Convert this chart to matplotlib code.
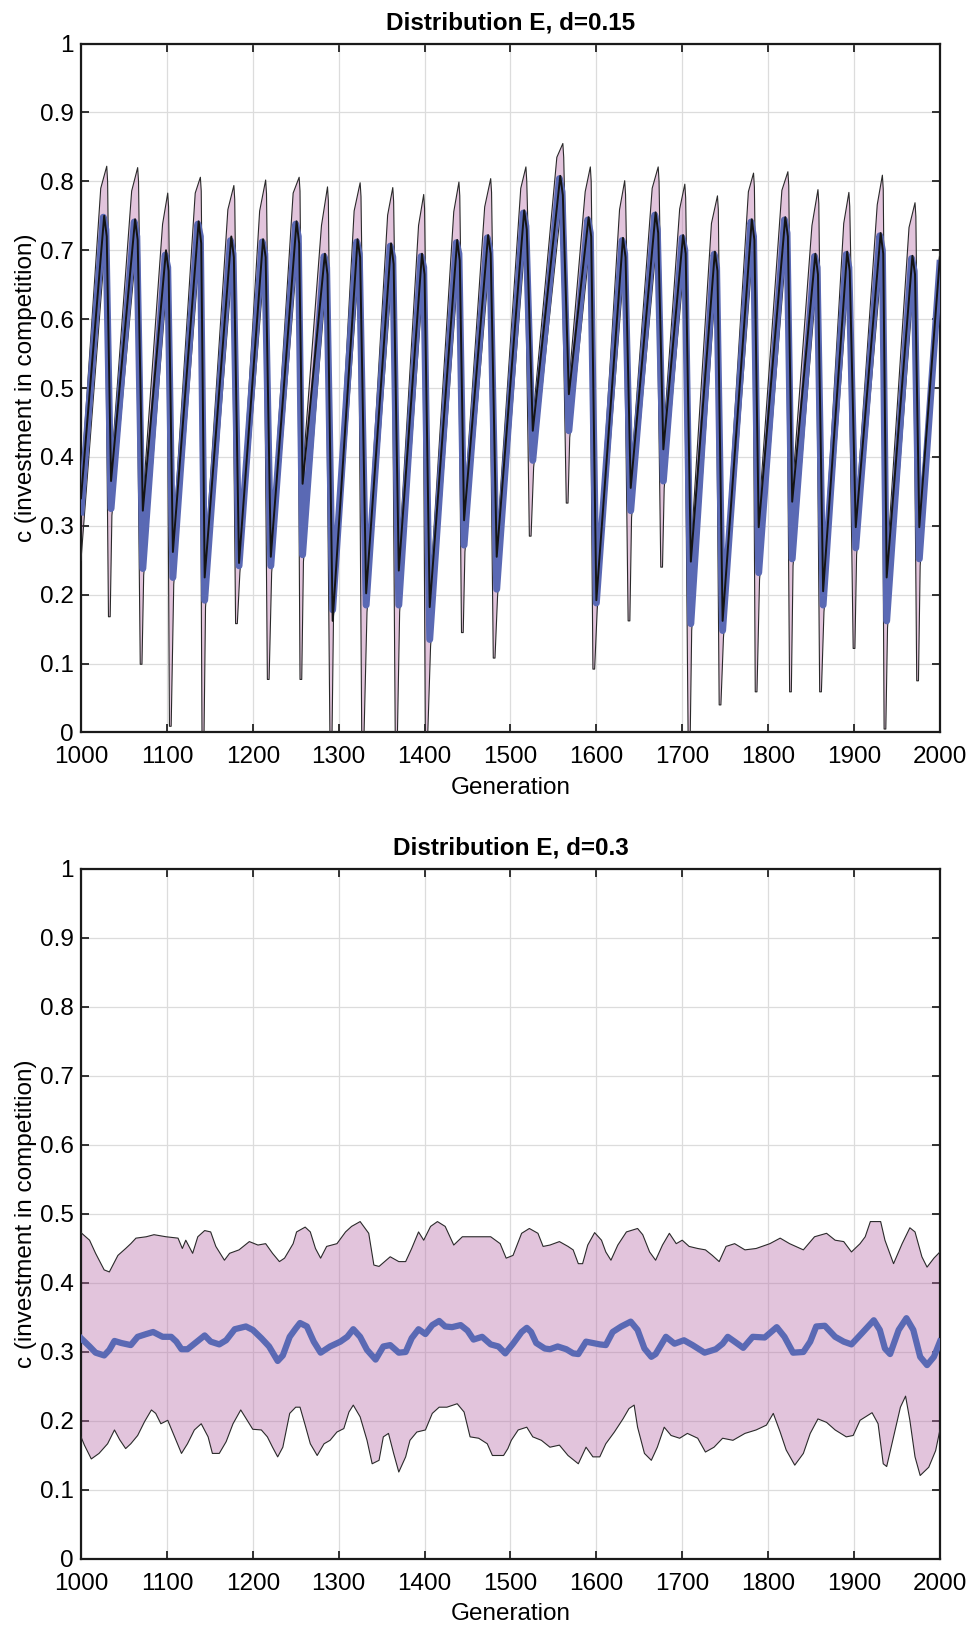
import numpy as np
import matplotlib
matplotlib.use("Agg")
import matplotlib.pyplot as plt

plt.rcParams['font.family'] = ['Liberation Sans', 'DejaVu Sans']

# ---------------- top panel: d = 0.15 ----------------
top_mean_gen = [1000, 1026, 1029, 1035, 1062, 1065, 1072, 1098, 1101, 1107, 1136, 1139, 1144,
                1174, 1177, 1184, 1211, 1214, 1221, 1250, 1253, 1258, 1283, 1286, 1293,
                1321, 1324, 1332, 1360, 1363, 1370, 1396, 1399, 1406, 1437, 1440, 1446,
                1473, 1476, 1484, 1515, 1518, 1526, 1557, 1560, 1568, 1590, 1593, 1600,
                1630, 1633, 1640, 1668, 1671, 1678, 1700, 1703, 1710, 1737, 1740, 1747,
                1780, 1783, 1789, 1819, 1822, 1828, 1854, 1857, 1864, 1891, 1894, 1902,
                1930, 1933, 1938, 1967, 1970, 1976, 2000]
top_mean = [0.32, 0.748, 0.73, 0.325, 0.741, 0.72, 0.238, 0.693, 0.675, 0.225, 0.738, 0.72, 0.192,
            0.714, 0.695, 0.242, 0.712, 0.695, 0.242, 0.738, 0.72, 0.258, 0.691, 0.675, 0.178,
            0.712, 0.695, 0.185, 0.706, 0.69, 0.185, 0.691, 0.675, 0.135, 0.711, 0.695, 0.272,
            0.718, 0.70, 0.208, 0.754, 0.735, 0.395, 0.804, 0.785, 0.438, 0.744, 0.725, 0.188,
            0.714, 0.695, 0.322, 0.751, 0.73, 0.365, 0.718, 0.70, 0.158, 0.694, 0.675, 0.148,
            0.741, 0.72, 0.232, 0.744, 0.725, 0.252, 0.691, 0.675, 0.185, 0.694, 0.675, 0.268,
            0.721, 0.70, 0.162, 0.688, 0.67, 0.252, 0.681]

top_black_gen = [1000, 1027, 1030, 1035, 1063, 1066, 1072, 1099, 1102, 1107, 1137, 1140, 1144,
                 1175, 1178, 1184, 1212, 1215, 1221, 1251, 1254, 1258, 1284, 1287, 1293,
                 1322, 1325, 1332, 1361, 1364, 1370, 1397, 1400, 1406, 1438, 1441, 1446,
                 1474, 1477, 1484, 1516, 1519, 1526, 1558, 1561, 1568, 1591, 1594, 1600,
                 1631, 1634, 1640, 1669, 1672, 1678, 1701, 1704, 1710, 1738, 1741, 1747,
                 1781, 1784, 1789, 1820, 1823, 1828, 1855, 1858, 1864, 1892, 1895, 1902,
                 1931, 1934, 1938, 1968, 1971, 1976, 2000]
top_black = [0.34, 0.75, 0.72, 0.365, 0.745, 0.715, 0.322, 0.70, 0.67, 0.262, 0.742, 0.71, 0.225,
             0.72, 0.69, 0.246, 0.716, 0.69, 0.255, 0.742, 0.71, 0.361, 0.695, 0.665, 0.162,
             0.716, 0.69, 0.202, 0.71, 0.68, 0.235, 0.695, 0.665, 0.182, 0.715, 0.685, 0.308,
             0.722, 0.695, 0.255, 0.758, 0.73, 0.438, 0.808, 0.78, 0.491, 0.748, 0.72, 0.192,
             0.718, 0.69, 0.355, 0.755, 0.725, 0.411, 0.722, 0.695, 0.248, 0.698, 0.67, 0.162,
             0.745, 0.715, 0.298, 0.748, 0.72, 0.335, 0.695, 0.665, 0.205, 0.698, 0.67, 0.298,
             0.725, 0.695, 0.225, 0.692, 0.665, 0.298, 0.69]

top_hi_gen = [1000, 1023, 1030, 1031, 1035, 1059, 1066, 1067, 1072, 1095, 1101, 1102, 1107,
              1133, 1139, 1140, 1144, 1171, 1178, 1179, 1184, 1208, 1215, 1216, 1221,
              1247, 1254, 1255, 1258, 1280, 1287, 1288, 1293, 1318, 1325, 1326, 1332,
              1357, 1363, 1364, 1370, 1393, 1399, 1400, 1406, 1434, 1440, 1441, 1446,
              1470, 1477, 1478, 1484, 1512, 1518, 1519, 1526, 1554, 1561, 1562, 1568,
              1587, 1593, 1594, 1600, 1627, 1633, 1634, 1640, 1665, 1672, 1673, 1678,
              1697, 1703, 1704, 1710, 1734, 1741, 1742, 1747, 1777, 1783, 1784, 1789,
              1816, 1823, 1824, 1828, 1851, 1858, 1859, 1864, 1888, 1894, 1895, 1902,
              1927, 1933, 1934, 1938, 1964, 1971, 1972, 1976, 2000]
top_hi = [0.36, 0.79, 0.822, 0.80, 0.38, 0.786, 0.82, 0.80, 0.337, 0.738, 0.783, 0.763, 0.277,
          0.783, 0.806, 0.786, 0.24, 0.759, 0.794, 0.774, 0.261, 0.757, 0.802, 0.782, 0.27,
          0.783, 0.806, 0.786, 0.376, 0.736, 0.792, 0.772, 0.177, 0.757, 0.798, 0.778, 0.217,
          0.751, 0.791, 0.771, 0.25, 0.736, 0.781, 0.761, 0.197, 0.756, 0.799, 0.779, 0.323,
          0.763, 0.804, 0.784, 0.27, 0.79, 0.821, 0.80, 0.453, 0.835, 0.855, 0.835, 0.506,
          0.785, 0.821, 0.80, 0.207, 0.759, 0.801, 0.781, 0.37, 0.79, 0.821, 0.80, 0.426,
          0.76, 0.796, 0.776, 0.263, 0.739, 0.779, 0.759, 0.177, 0.785, 0.812, 0.792, 0.313,
          0.787, 0.814, 0.794, 0.35, 0.736, 0.788, 0.768, 0.22, 0.739, 0.784, 0.764, 0.313,
          0.766, 0.809, 0.789, 0.24, 0.733, 0.769, 0.749, 0.313, 0.70]

top_lo_gen = [1000, 1028, 1032, 1034, 1036, 1064, 1069, 1071, 1073, 1100, 1103, 1105, 1108,
              1138, 1141, 1143, 1145, 1176, 1180, 1182, 1185, 1213, 1217, 1219, 1222,
              1252, 1255, 1257, 1259, 1285, 1290, 1292, 1294, 1323, 1327, 1329, 1333,
              1362, 1366, 1368, 1371, 1398, 1401, 1403, 1407, 1439, 1443, 1445, 1447,
              1475, 1480, 1482, 1485, 1517, 1522, 1524, 1527, 1559, 1565, 1567, 1569,
              1592, 1596, 1598, 1601, 1632, 1637, 1639, 1641, 1670, 1675, 1677, 1679,
              1702, 1707, 1709, 1711, 1739, 1743, 1745, 1748, 1782, 1785, 1787, 1790,
              1821, 1825, 1827, 1829, 1856, 1860, 1862, 1865, 1893, 1899, 1901, 1903,
              1932, 1935, 1937, 1939, 1969, 1973, 1975, 1977, 2000]
top_lo = [0.25, 0.708, 0.168, 0.168, 0.315, 0.70, 0.099, 0.099, 0.228, 0.653, 0.009, 0.009, 0.215,
          0.698, -0.03, -0.03, 0.182, 0.674, 0.158, 0.158, 0.232, 0.672, 0.077, 0.077, 0.232,
          0.698, 0.077, 0.077, 0.248, 0.651, -0.03, -0.03, 0.168, 0.672, -0.03, -0.03, 0.175,
          0.666, -0.03, -0.03, 0.175, 0.651, -0.03, -0.03, 0.125, 0.671, 0.145, 0.145, 0.262,
          0.678, 0.108, 0.108, 0.198, 0.714, 0.285, 0.285, 0.385, 0.764, 0.333, 0.333, 0.428,
          0.704, 0.092, 0.092, 0.178, 0.674, 0.162, 0.162, 0.312, 0.711, 0.24, 0.24, 0.355,
          0.678, -0.03, -0.03, 0.148, 0.654, 0.04, 0.04, 0.138, 0.701, 0.059, 0.059, 0.222,
          0.704, 0.059, 0.059, 0.242, 0.651, 0.059, 0.059, 0.175, 0.654, 0.122, 0.122, 0.258,
          0.681, 0.005, 0.005, 0.152, 0.648, 0.075, 0.075, 0.242, 0.66]

# ---------------- bottom panel: d = 0.3 ----------------
bot_hi_gen = [1000, 1010, 1017, 1027, 1033, 1043, 1052, 1058, 1064, 1076, 1085, 1099, 1113, 1118,
              1122, 1130, 1136, 1144, 1151, 1157, 1167, 1173, 1184, 1196, 1206, 1215, 1223,
              1231, 1237, 1247, 1251, 1261, 1267, 1273, 1279, 1286, 1298, 1308, 1315, 1325,
              1335, 1341, 1347, 1360, 1370, 1378, 1385, 1393, 1399, 1407, 1415, 1424, 1434,
              1444, 1461, 1477, 1488, 1495, 1503, 1513, 1522, 1532, 1538, 1546, 1557, 1567,
              1573, 1579, 1584, 1590, 1598, 1606, 1611, 1617, 1625, 1635, 1648, 1654, 1662,
              1669, 1677, 1685, 1693, 1700, 1708, 1718, 1727, 1735, 1743, 1751, 1761, 1773,
              1786, 1802, 1814, 1825, 1841, 1854, 1868, 1878, 1888, 1897, 1907, 1913, 1919,
              1931, 1936, 1946, 1956, 1965, 1971, 1979, 1985, 1993, 2000]
bot_hi = [0.473, 0.462, 0.443, 0.419, 0.416, 0.440, 0.450, 0.457, 0.465, 0.467, 0.470, 0.467,
          0.465, 0.450, 0.462, 0.443, 0.467, 0.476, 0.474, 0.453, 0.433, 0.443, 0.448, 0.460,
          0.455, 0.457, 0.443, 0.431, 0.436, 0.457, 0.474, 0.481, 0.474, 0.450, 0.436, 0.453,
          0.457, 0.474, 0.482, 0.489, 0.472, 0.426, 0.424, 0.438, 0.431, 0.431, 0.450, 0.474,
          0.462, 0.482, 0.489, 0.482, 0.455, 0.467, 0.467, 0.467, 0.457, 0.436, 0.440, 0.472,
          0.479, 0.472, 0.453, 0.455, 0.460, 0.453, 0.448, 0.428, 0.428, 0.455, 0.473, 0.462,
          0.445, 0.433, 0.455, 0.474, 0.479, 0.470, 0.445, 0.433, 0.455, 0.472, 0.457, 0.462,
          0.453, 0.450, 0.448, 0.440, 0.431, 0.453, 0.457, 0.448, 0.450, 0.457, 0.465, 0.457,
          0.448, 0.467, 0.472, 0.462, 0.460, 0.445, 0.457, 0.467, 0.489, 0.489, 0.462, 0.428,
          0.457, 0.480, 0.474, 0.438, 0.423, 0.436, 0.445]

bot_mean_gen = [1000, 1010, 1017, 1027, 1033, 1039, 1047, 1058, 1066, 1076, 1084, 1095, 1105,
                1111, 1117, 1124, 1132, 1144, 1151, 1161, 1169, 1179, 1192, 1200, 1210, 1219,
                1229, 1235, 1243, 1250, 1255, 1263, 1271, 1279, 1290, 1302, 1310, 1317, 1325,
                1333, 1343, 1352, 1360, 1370, 1378, 1385, 1393, 1401, 1409, 1417, 1424, 1432,
                1442, 1450, 1457, 1467, 1477, 1486, 1494, 1503, 1513, 1519, 1524, 1530, 1540,
                1546, 1555, 1565, 1573, 1579, 1588, 1596, 1604, 1611, 1619, 1629, 1640, 1648,
                1656, 1664, 1669, 1681, 1691, 1702, 1712, 1726, 1739, 1747, 1753, 1761, 1771,
                1782, 1796, 1810, 1819, 1829, 1841, 1849, 1856, 1866, 1878, 1888, 1897, 1909,
                1923, 1930, 1936, 1942, 1952, 1961, 1969, 1977, 1985, 1993, 2000]
bot_mean = [0.320, 0.308, 0.299, 0.295, 0.303, 0.316, 0.313, 0.310, 0.322, 0.326, 0.329, 0.322,
            0.322, 0.315, 0.304, 0.304, 0.312, 0.324, 0.315, 0.311, 0.317, 0.333, 0.337, 0.332,
            0.320, 0.308, 0.287, 0.295, 0.322, 0.334, 0.342, 0.337, 0.315, 0.299, 0.308, 0.315,
            0.322, 0.333, 0.322, 0.303, 0.289, 0.308, 0.310, 0.299, 0.300, 0.320, 0.333, 0.326,
            0.339, 0.345, 0.337, 0.336, 0.339, 0.331, 0.318, 0.322, 0.311, 0.308, 0.298, 0.312,
            0.329, 0.335, 0.329, 0.313, 0.305, 0.304, 0.308, 0.304, 0.298, 0.297, 0.315, 0.313,
            0.311, 0.310, 0.329, 0.337, 0.344, 0.332, 0.305, 0.293, 0.297, 0.322, 0.312, 0.317,
            0.310, 0.299, 0.304, 0.312, 0.322, 0.315, 0.306, 0.322, 0.321, 0.336, 0.322, 0.299,
            0.300, 0.315, 0.337, 0.338, 0.322, 0.315, 0.311, 0.327, 0.346, 0.332, 0.305, 0.297,
            0.332, 0.349, 0.332, 0.293, 0.281, 0.293, 0.315]

bot_lo_gen = [1000, 1004, 1012, 1021, 1031, 1039, 1045, 1052, 1058, 1066, 1074, 1082, 1087, 1093,
              1101, 1109, 1117, 1124, 1132, 1140, 1148, 1153, 1161, 1169, 1177, 1186, 1200,
              1210, 1217, 1223, 1229, 1235, 1243, 1250, 1255, 1261, 1267, 1275, 1283, 1290,
              1298, 1306, 1312, 1317, 1325, 1333, 1339, 1347, 1352, 1358, 1364, 1370, 1378,
              1383, 1391, 1401, 1409, 1417, 1426, 1438, 1446, 1453, 1463, 1473, 1479, 1492,
              1497, 1501, 1509, 1519, 1526, 1536, 1546, 1557, 1567, 1579, 1588, 1596, 1604,
              1611, 1621, 1631, 1638, 1644, 1648, 1656, 1664, 1671, 1679, 1687, 1697, 1706,
              1718, 1727, 1737, 1747, 1759, 1773, 1786, 1798, 1806, 1814, 1821, 1831, 1841,
              1849, 1858, 1868, 1878, 1891, 1899, 1907, 1921, 1928, 1934, 1938, 1946, 1954,
              1960, 1965, 1971, 1977, 1987, 1995, 2000]
bot_lo = [0.177, 0.165, 0.145, 0.153, 0.167, 0.187, 0.173, 0.160, 0.167, 0.179, 0.199, 0.216,
          0.211, 0.196, 0.201, 0.177, 0.153, 0.167, 0.187, 0.196, 0.177, 0.153, 0.153, 0.170,
          0.196, 0.216, 0.188, 0.187, 0.177, 0.162, 0.148, 0.162, 0.211, 0.220, 0.220, 0.194,
          0.167, 0.150, 0.167, 0.172, 0.184, 0.189, 0.213, 0.223, 0.206, 0.172, 0.138, 0.143,
          0.177, 0.182, 0.153, 0.126, 0.148, 0.172, 0.184, 0.187, 0.211, 0.220, 0.220, 0.225,
          0.213, 0.177, 0.175, 0.167, 0.150, 0.150, 0.160, 0.172, 0.187, 0.191, 0.177, 0.172,
          0.162, 0.165, 0.150, 0.138, 0.162, 0.148, 0.148, 0.167, 0.184, 0.203, 0.218, 0.223,
          0.191, 0.153, 0.143, 0.162, 0.191, 0.179, 0.175, 0.182, 0.175, 0.155, 0.162, 0.175,
          0.172, 0.182, 0.187, 0.194, 0.211, 0.184, 0.158, 0.136, 0.153, 0.182, 0.203, 0.198,
          0.187, 0.177, 0.179, 0.201, 0.212, 0.196, 0.138, 0.134, 0.177, 0.220, 0.236, 0.201,
          0.148, 0.121, 0.133, 0.157, 0.187]

x_ticks = [1000, 1100, 1200, 1300, 1400, 1500, 1600, 1700, 1800, 1900, 2000]
y_ticks = [0, 0.1, 0.2, 0.3, 0.4, 0.5, 0.6, 0.7, 0.8, 0.9, 1]
y_tick_labels = ['0', '0.1', '0.2', '0.3', '0.4', '0.5', '0.6', '0.7', '0.8', '0.9', '1']

band_color = '#b76ca8'
mean_color = '#5a69b4'
fs = 17.5


def style_axes(ax, title):
    ax.set_xlim(1000, 2000)
    ax.set_ylim(0, 1)
    ax.set_xticks(x_ticks)
    ax.set_xticklabels([str(t) for t in x_ticks])
    ax.set_yticks(y_ticks)
    ax.set_yticklabels(y_tick_labels)
    ax.tick_params(direction='in', length=6, width=1.3, top=True, right=True,
                   labelsize=fs, color='#222222')
    ax.tick_params(axis='x', pad=10)
    ax.tick_params(axis='y', pad=5)
    ax.grid(True, color='#dcdcdc', linewidth=0.9)
    ax.set_axisbelow(True)
    for sp in ax.spines.values():
        sp.set_linewidth(1.6)
        sp.set_color('#1a1a1a')
    ax.set_title(title, fontsize=fs, fontweight='bold', pad=10.5)
    ax.set_xlabel('Generation', fontsize=fs, labelpad=6)
    ax.set_ylabel('c (investment in competition)', fontsize=fs, labelpad=2)


def draw_band(ax, hx, hy, lx, ly):
    px = np.concatenate([hx, lx[::-1]])
    py = np.concatenate([hy, ly[::-1]])
    ax.fill(px, py, color=band_color, alpha=0.4, linewidth=0, zorder=2)
    ax.plot(hx, hy, color='#2a2a2a', linewidth=0.8, zorder=3)
    ax.plot(lx, ly, color='#2a2a2a', linewidth=0.8, zorder=3)


fig = plt.figure(figsize=(9.71, 16.27), dpi=100)
ax1 = fig.add_axes([0.0834, 0.5498, 0.8846, 0.4234])
ax2 = fig.add_axes([0.0834, 0.0418, 0.8846, 0.4241])

draw_band(ax1, np.array(top_hi_gen), np.array(top_hi), np.array(top_lo_gen), np.array(top_lo))
ax1.plot(top_mean_gen, top_mean, color='#0b74bd', linewidth=2.0, zorder=4)
ax1.plot(top_mean_gen, top_mean, color=mean_color, linewidth=5.0, zorder=5,
         solid_joinstyle='round')
ax1.plot(top_black_gen, top_black, color='#141414', linewidth=1.4, zorder=6)
style_axes(ax1, 'Distribution E, d=0.15')

draw_band(ax2, np.array(bot_hi_gen), np.array(bot_hi), np.array(bot_lo_gen), np.array(bot_lo))
ax2.plot(bot_mean_gen, bot_mean, color='#0b74bd', linewidth=2.0, zorder=4)
ax2.plot(bot_mean_gen, bot_mean, color=mean_color, linewidth=4.5, zorder=5,
         solid_joinstyle='round')
style_axes(ax2, 'Distribution E, d=0.3')

fig.savefig('out.png', dpi=100)
